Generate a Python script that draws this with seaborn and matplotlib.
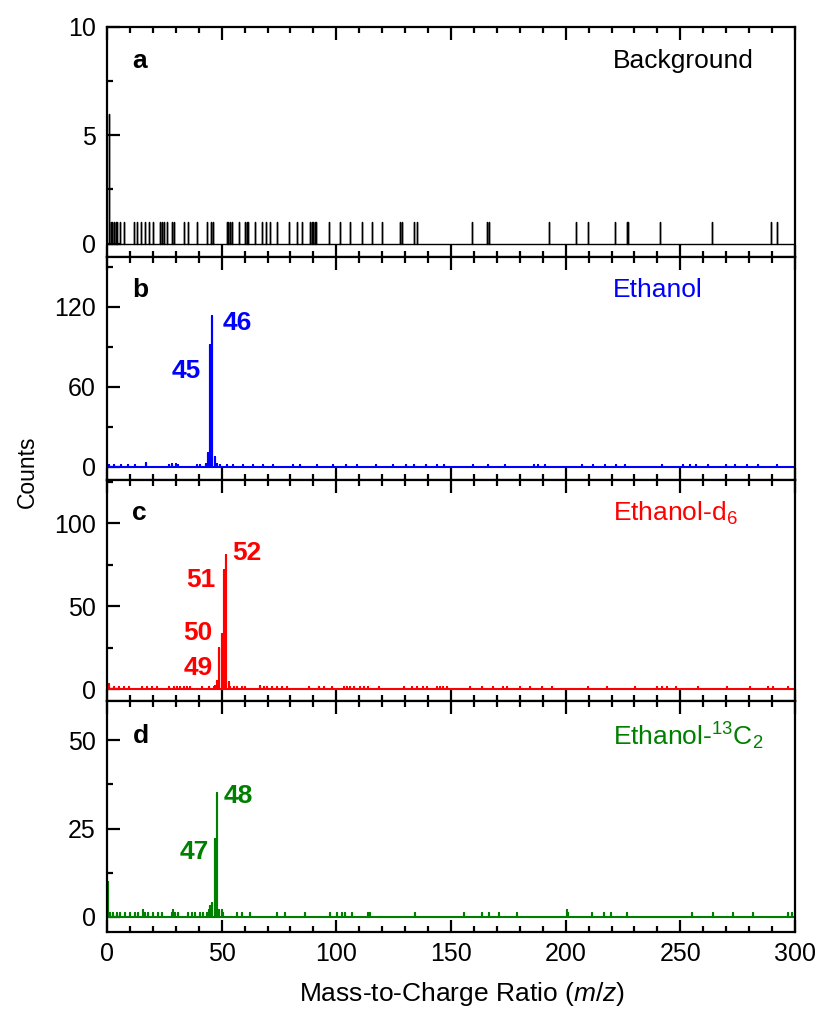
import numpy as np
import pandas as pd
import matplotlib
matplotlib.use("Agg")
import matplotlib.pyplot as plt
import seaborn as sns
from matplotlib.ticker import MultipleLocator

sns.set_theme(style="white")
plt.rcParams['font.family'] = ['Liberation Sans', 'DejaVu Sans']
plt.rcParams['mathtext.fontset'] = 'custom'
plt.rcParams['mathtext.rm'] = 'Liberation Sans'
plt.rcParams['mathtext.it'] = 'Liberation Sans:italic'
for k in ['text.color', 'axes.labelcolor', 'xtick.color', 'ytick.color', 'axes.edgecolor']:
    plt.rcParams[k] = 'black'

# ---------------- data (m/z positions and counts) ----------------
bg_mz = [0.8, 1.6, 2.3, 3.1, 3.8, 4.5, 5.7, 7.4, 11.8, 12.9, 15.0, 16.6, 18.5, 19.9,
         23.1, 23.8, 24.9, 26.0, 28.5, 29.2, 33.6, 35.5, 39.1, 43.5, 45.2, 46.4,
         52.2, 52.9, 53.6, 54.5, 57.7, 60.2, 60.9, 61.6, 64.5, 67.5, 69.3, 71.1, 74.0,
         79.5, 83.0, 84.9, 88.5, 89.3, 90.0, 90.7, 91.1, 96.8, 101.6, 106.0, 111.1,
         115.7, 119.9, 127.8, 128.5, 134.0, 135.3, 159.0, 165.9, 166.7, 192.9, 204.5,
         209.9, 221.5, 226.6, 227.3, 241.2, 263.7, 289.4, 292.3]
bg_counts = [6] + [1] * (len(bg_mz) - 1)

eth_mz = [1, 3, 6, 9, 12, 16.9, 27, 28.5, 30, 31, 39.2, 40.6, 43, 44, 45, 46, 47, 48,
          49.3, 52.2, 55.1, 59.5, 63.8, 68.2, 72.5, 81.2, 84.1, 91.4, 98.6, 104.4,
          108.8, 117.5, 124.7, 130.5, 134, 139, 144, 147, 159.8, 166.3, 173.6, 186,
          188, 191, 207, 212, 217, 222, 226, 241.9, 251, 254, 257, 262, 270, 274,
          279, 284, 292]
eth_counts = [1, 1, 1, 1, 1, 3, 1, 2, 2, 1, 1, 1, 2, 10, 91, 113, 7, 2,
              1, 1, 1, 1, 1, 1, 1, 1, 1, 1, 1, 1,
              1, 1, 1, 1, 1, 1, 1, 1, 1, 1, 1, 1,
              1, 1, 1, 1, 1, 1, 1, 1, 1, 1, 1, 1, 1, 1,
              1, 1, 1]

d6_mz = [0.7, 2.9, 5.1, 7.3, 9.4, 15.3, 17.4, 19.6, 21.8, 26.9, 29.1, 30.5, 32.0,
         33.4, 34.9, 36.3, 41.4, 44.3, 46.5, 47, 48, 49, 50, 51, 52, 53, 53.8, 55.3,
         56.7, 58.9, 60.3, 66.9, 68.3, 69.8, 72.0, 74.2, 76.3, 78.5, 87.9, 92.3,
         94.5, 98.1, 103.2, 104.6, 106.1, 107.5, 110.4, 111.9, 114.0, 118.4, 129.3,
         133, 135, 138.0, 139.5, 143.8, 145.3, 146.7, 148.2, 158.3, 163.4, 168.5,
         172.8, 174.3, 180.1, 184.5, 189.6, 193.9, 209.9, 217.9, 230.3, 240, 242,
         244, 248, 257.9, 270.3, 280.4, 288.3, 290.5, 297.1]
d6_counts = [3, 1, 1, 1, 1, 1, 1, 1, 1, 1, 1, 1, 1,
             1, 1, 1, 1, 1, 1, 2, 5, 25, 33, 72, 81, 4, 1, 1,
             1, 1, 1, 2, 1, 1, 1, 1, 1, 1, 1, 1,
             1, 1, 1, 1, 1, 1, 1, 1, 1, 1, 1,
             1, 1, 1, 1, 1, 1, 1, 1, 1, 1, 1,
             1, 1, 1, 1, 1, 1, 1, 1, 1, 1, 1,
             1, 1, 1, 1, 1, 1, 1, 1]

c13_mz = [0.3, 0.6, 1.3, 2.8, 4.2, 5.7, 7.9, 10.0, 12.2, 13.7, 15.6, 16.6, 18.0,
          20.2, 22.4, 23.8, 28.2, 28.9, 29.7, 31.1, 35.5, 36.9, 38.4, 40.6, 42.0,
          43.5, 44.5, 45, 46, 47, 48, 49, 50, 50.7, 56.6, 58.7, 62.4, 74.0, 77.6,
          86.4, 97.3, 100.2, 102.4, 103.8, 106.7, 114.0, 114.7, 134.3, 155.7, 163.4,
          166.7, 171.1, 178.7, 200.5, 201.2, 211.4, 216.7, 219.8, 226.9, 255.1,
          264.1, 273.1, 281.9, 297.1, 298.6]
c13_counts = [10, 1, 1, 1, 1, 1, 1, 1, 1, 1, 2, 1, 1,
              1, 1, 1, 1, 2, 1, 1, 1, 1, 1, 1, 1,
              1, 2, 3, 4, 22, 35, 2, 2, 1, 1, 1, 1, 1, 1,
              1, 1, 1, 1, 1, 1, 1, 1, 1, 1, 1,
              1, 1, 1, 2, 1, 1, 1, 1, 1, 1,
              1, 1, 1, 1, 1]

xticks = [0, 50, 100, 150, 200, 250, 300]


def stick_frame(mz, counts, xmax=300):
    xs, ys = [0.0], [0.0]
    for m, c in sorted(zip(mz, counts)):
        xs += [m, m, m]
        ys += [0.0, c, 0.0]
    xs.append(xmax)
    ys.append(0.0)
    return pd.DataFrame({"mz": xs, "counts": ys})


panels = [
    dict(mz=bg_mz, c=bg_counts, color="black", lw=1.0, ylim=(-0.6, 10), major=5, minor=2.5,
         letter="a", name="Background",
         peaks=[]),
    dict(mz=eth_mz, c=eth_counts, color="#0000ff", lw=1.5, ylim=(-10, 157.5), major=60, minor=30,
         letter="b", name="Ethanol",
         peaks=[("46", 50.3, 108, "left"), ("45", 40.8, 72, "right")]),
    dict(mz=d6_mz, c=d6_counts, color="#ff0000", lw=1.5, ylim=(-7.5, 126), major=50, minor=25,
         letter="c", name="Ethanol-d$_6$",
         peaks=[("52", 54.8, 82, "left"), ("51", 47.1, 66, "right"),
                ("50", 45.8, 34, "right"), ("49", 46.2, 12.8, "right")]),
    dict(mz=c13_mz, c=c13_counts, color="#008000", lw=1.5, ylim=(-4.3, 61), major=25, minor=12.5,
         letter="d", name="Ethanol-$^{13}$C$_2$",
         peaks=[("48", 50.7, 34.2, "left"), ("47", 44.3, 18.5, "right")]),
]

fig = plt.figure(figsize=(8.21, 10.19), dpi=100)
gs = fig.add_gridspec(4, 1, left=107 / 821, right=795 / 821, top=1 - 27 / 1019,
                      bottom=1 - 932 / 1019, hspace=0, height_ratios=[229, 223, 221, 230])

TFS = 18   # tick labels
LFS = 19   # labels
for i, p in enumerate(panels):
    ax = fig.add_subplot(gs[i])
    df = stick_frame(p["mz"], p["c"])
    sns.lineplot(data=df, x="mz", y="counts", sort=False, estimator=None,
                 color=p["color"], lw=p["lw"], ax=ax)
    ax.set_xlim(0, 300)
    ax.set_ylim(*p["ylim"])
    ax.xaxis.set_major_locator(MultipleLocator(50))
    ax.xaxis.set_minor_locator(MultipleLocator(10))
    ax.yaxis.set_major_locator(MultipleLocator(p["major"]))
    ax.yaxis.set_minor_locator(MultipleLocator(p["minor"]))
    ax.tick_params(axis="x", which="both", direction="in", top=True, bottom=True,
                   labelbottom=(i == 3), labelsize=TFS, color="black",
                   labelcolor="black", pad=7)
    ax.tick_params(axis="y", which="both", direction="in", left=True, right=False,
                   labelsize=TFS, color="black", labelcolor="black", pad=8)
    ax.tick_params(which="major", length=9, width=1.6)
    ax.tick_params(which="minor", length=4.5, width=1.6)
    if i == 3:
        ax.set_xticks(xticks)
        ax.set_xticklabels([str(v) for v in xticks])
    ax.set_xlabel("")
    ax.set_ylabel("")
    for s in ax.spines.values():
        s.set_color("black")
        s.set_linewidth(1.6)
    ax.text(0.037, 0.85, p["letter"], transform=ax.transAxes, fontsize=LFS,
            fontweight="bold", ha="left", va="center", color="black")
    ax.text(0.735, 0.85, p["name"], transform=ax.transAxes, fontsize=LFS,
            ha="left", va="center", color=p["color"])
    for lab, x, y, ha in p["peaks"]:
        ax.text(x, y, lab, fontsize=LFS, fontweight="bold", ha=ha, va="center",
                color=p["color"])

fig.text(27 / 821, 1 - 472 / 1019, "Counts", rotation=90, fontsize=16.5,
         ha="center", va="center", color="black")
fig.text(462 / 821, 1 - 994 / 1019, "Mass-to-Charge Ratio ($\\it{m/z}$)", fontsize=LFS,
         ha="center", va="center", color="black")

fig.savefig("out.png", dpi=100)
